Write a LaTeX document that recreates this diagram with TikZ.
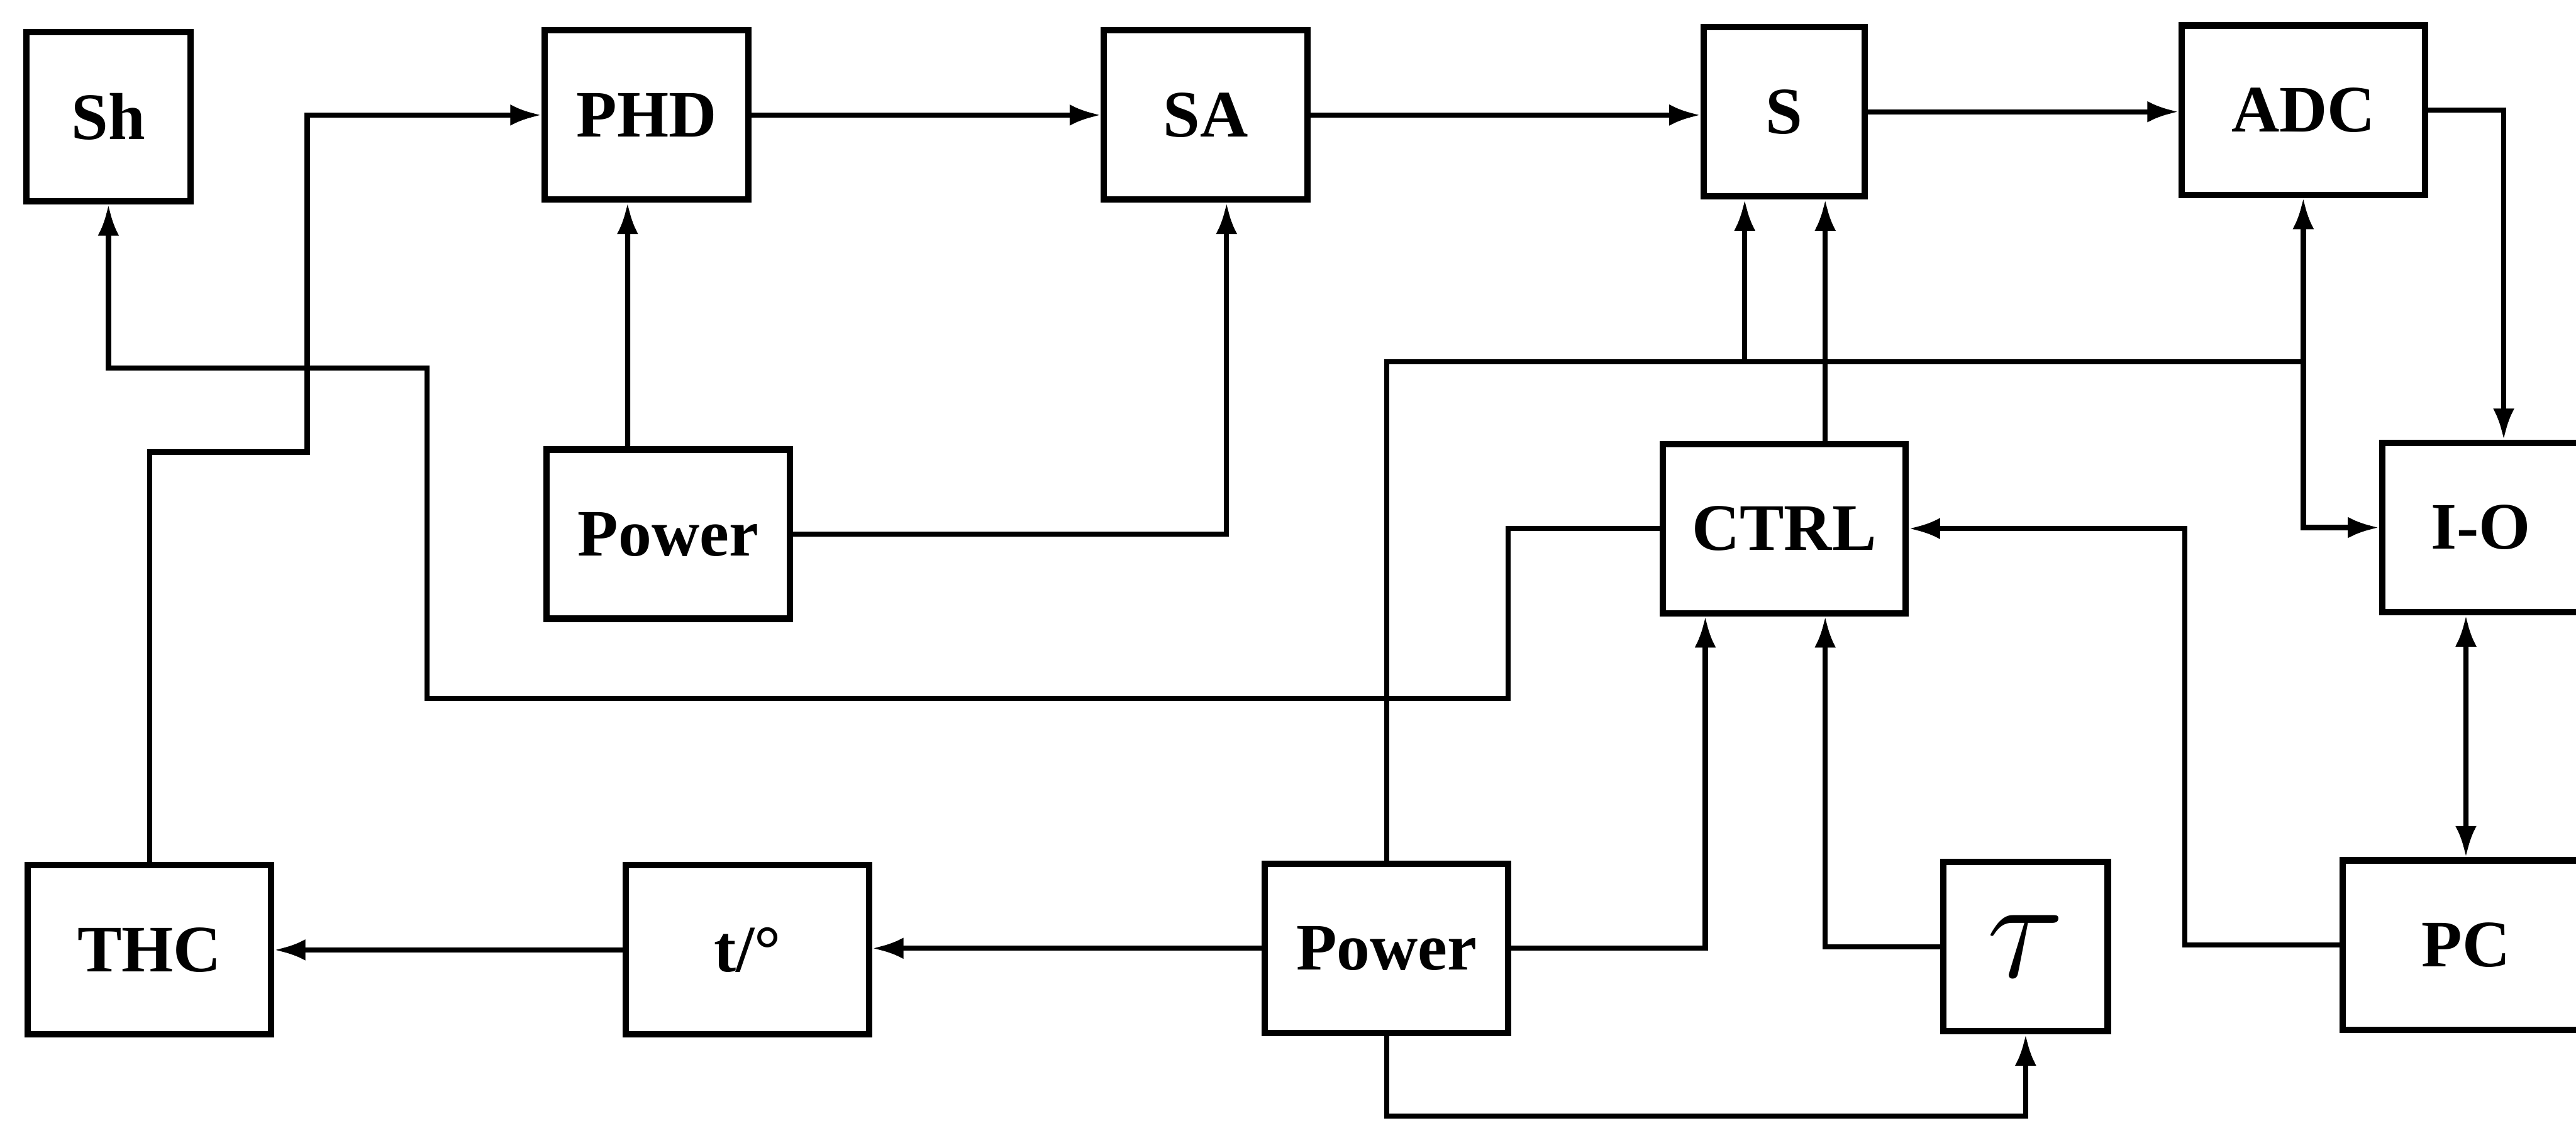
\documentclass[tikz,border=0pt]{standalone}
\usepackage{fontspec}
\setmainfont{Liberation Serif}
\usepackage{tikz}
\usetikzlibrary{arrows.meta}
\tikzstyle{block} = [rectangle, draw, line width=1.1pt, minimum height=1.03cm, inner sep=0pt, text centered, font=\bfseries\fontsize{11.5}{13}\selectfont]
\tikzstyle{narrow} = [block, minimum width=1cm]
\tikzstyle{medium} = [block, minimum width=1.24cm]
\tikzstyle{wide} = [block, minimum width=1.48cm]
\tikzstyle{wire} = [line width=0.9pt]
\tikzstyle{arrow} = [wire, ->, >={Latex[length=1.9mm, width=1.3mm]}]
\tikzstyle{biarrow} = [arrow, <->]

\begin{document}
\begin{tikzpicture}[x=0.1mm, y=-0.1mm]
        \useasboundingbox (0,0) rectangle (1568,683);
        \clip (0,0) rectangle (1568,683);

        % Top row
        \node (sh) [narrow] at (66,71) {Sh};
        \node (phd) [medium] at (393.5,70) {PHD};
        \node (sa) [medium] at (734,70) {SA};
        \node (s) [narrow, minimum width=0.98cm] at (1086,68) {S};
        \node (adc) [wide] at (1402,67) {ADC};

        % Middle row
        \node (pow1) [wide] at (406.7,325) {Power};
        \node (ctrl) [wide] at (1086,321.6) {CTRL};
        \node (io) [block, minimum width=1.2cm] at (1510,321) {I-O};

        % Bottom row
        \node (thc) [wide] at (91,578) {THC};
        \node (tdeg) [wide] at (455,578) {t/°};
        \node (pow2) [wide] at (844,577) {Power};
        \node (tau) [narrow, font=\fontsize{24}{26}\selectfont] at (1233,576) {$\tau$};
        \node (pc) [block, minimum width=1.5cm] at (1501,575) {PC};

        % Signal path
        \draw [arrow] (thc.north) |- (187,275) |- (phd.west);
        \draw [arrow] (phd.east) -- (sa.west);
        \draw [arrow] (sa.east) -- (sa.east -| s.west);
        \draw [arrow] (s.east) -- (s.east -| adc.west);
        \draw [arrow] (adc.east) -| ([xshift=1.4mm]io.north);
        \draw [biarrow] (adc.south) |- (io.west);
        \draw [biarrow] ([xshift=-0.9mm]io.south) -- (pc.north);

        % Supply
        \draw [arrow] ([xshift=-2.47mm]pow1.north) -- ([xshift=-1.15mm]phd.south);
        \draw [arrow] (pow1.east) -| ([xshift=1.26mm]sa.south);
        \coordinate (bus) at (1062,220);
        \draw [wire] (pow2.north) |- (bus) -- (bus -| adc.south);
        \draw [arrow] (bus) -- (bus |- s.south);
        \draw [arrow] (pow2.east) -| ([xshift=-4.8mm]ctrl.south);
        \draw [arrow] (pow2.south) |- (1233,679) -- (tau.south);
        \draw [arrow] (pow2.west) -- (pow2.west -| tdeg.east);
        \draw [arrow] (tdeg.west) -- (thc.east);

        % Control
        \draw [arrow] ([xshift=2.5mm]ctrl.north) -- ([xshift=2.5mm]s.south);
        \draw [arrow] (ctrl.west) -| (918,425) -| (260,224) -| (sh.south);
        \draw [arrow] (tau.west) -| ([xshift=2.5mm]ctrl.south);
        \draw [arrow] (pc.west) -| (1330,321.6) -- (ctrl.east);
\end{tikzpicture}
\end{document}
